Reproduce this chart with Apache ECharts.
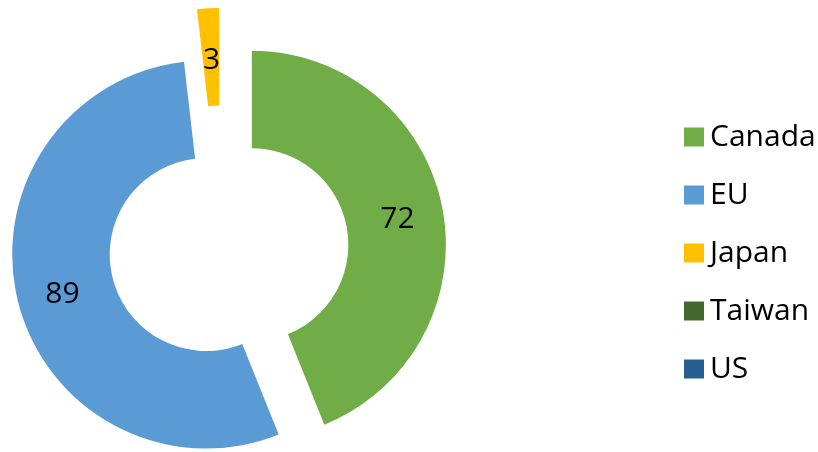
<!DOCTYPE html>
<html>
<head>
<meta charset="utf-8">
<script src="https://cdn.jsdelivr.net/npm/echarts@6/dist/echarts.min.js"></script>
<style>
html,body{margin:0;padding:0;background:#fff;}
#chart{width:818px;height:452px;}
</style>
</head>
<body>
<div id="chart"></div>
<script>
const categories = ['Canada', 'EU', 'Japan', 'Taiwan', 'US'];
const values = [72, 89, 3, 0, 0];
const colors = ['#70AD47', '#5B9BD5', '#FFC000', '#43682B', '#255E91'];
// explosion distance (px) for each slice, as in the reference
const explode = [30.4, 16.3, 48.5, 0, 0];
// label text padding (shifts text to match the reference placement)
const labelPad = [[6, 0, 0, 0], [6, 0, 0, 0], [12, 0, 0, 2], [0, 0, 0, 0], [0, 0, 0, 0]];

const FONT = '"Open Sans", "Noto Sans", sans-serif';

function seriesFor(idx) {
  return {
    type: 'pie',
    center: [222, 250.5],
    radius: [96.5, 194],
    startAngle: 90,
    clockwise: true,
    selectedMode: 'multiple',
    selectedOffset: explode[idx],
    avoidLabelOverlap: false,
    silent: true,
    animation: false,
    emphasis: { disabled: true },
    label: {
      show: true,
      position: 'inside',
      formatter: '{v|{c}}',
      color: '#000',
      fontSize: 30,
      fontFamily: FONT,
      textBorderWidth: 0,
      rich: {
        v: {
          color: '#000',
          fontSize: 30,
          fontFamily: FONT,
          padding: labelPad[idx]
        }
      }
    },
    labelLine: { show: false },
    itemStyle: { borderWidth: 0 },
    data: categories.map((name, i) => ({
      name: name,
      value: values[i],
      selected: i === idx,
      itemStyle: { color: i === idx ? colors[i] : 'rgba(0,0,0,0)' },
      label: { show: i === idx }
    }))
  };
}

const chart = echarts.init(document.getElementById('chart'), null, { renderer: 'canvas' });
chart.setOption({
  backgroundColor: '#fff',
  animation: false,
  legend: {
    orient: 'vertical',
    left: 679,
    top: 115,
    itemWidth: 20,
    itemHeight: 19,
    itemGap: 24,
    icon: 'rect',
    selectedMode: false,
    textStyle: {
      color: '#000',
      fontSize: 30,
      fontFamily: FONT,
      lineHeight: 34,
      padding: [0, 0, 0, 1]
    },
    data: categories.map((name, i) => ({
      name: name,
      itemStyle: { color: colors[i], opacity: 1 }
    }))
  },
  series: [seriesFor(0), seriesFor(1), seriesFor(2)]
});
</script>
</body>
</html>
